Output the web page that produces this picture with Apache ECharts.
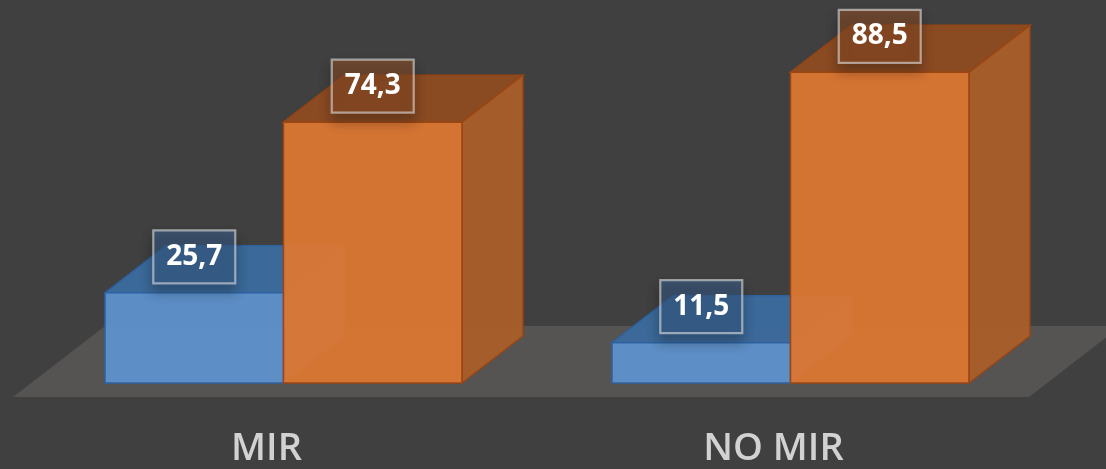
<!DOCTYPE html>
<html><head><meta charset="utf-8">
<script src="https://cdn.jsdelivr.net/npm/echarts@6/dist/echarts.min.js"></script>
<style>html,body{margin:0;padding:0;background:#404040}#c{width:1106px;height:469px}</style>
</head><body><div id="c"></div>
<script>
const categories = ['MIR', 'NO MIR'];
const seriesBlue = [25.7, 11.5];
const seriesOrange = [74.3, 88.5];

const DX = 61, DY = 47;
function fmt(v){ return v.toFixed(1).replace('.', ','); }

function boxRender(c, side) {
  return function (params, api) {
    const ci = api.value(0), v = api.value(1);
    const top = api.coord([ci, v]);
    const base = api.coord([ci, 0]);
    const bw = api.size([1, 0])[0];
    const w = bw * 0.352;
    const x0 = side < 0 ? top[0] - w : top[0];
    const x1 = x0 + w;
    const yt = top[1], yb = base[1];
    const sw = 1.5;
    const children = [
      { type: 'polygon', shape: { points: [[x0,yt],[x0+DX,yt-DY],[x1+DX,yt-DY],[x1,yt]] },
        style: { fill: c.top, stroke: c.stroke, lineWidth: sw, opacity: c.op } },
      { type: 'polygon', shape: { points: [[x1,yt],[x1+DX,yt-DY],[x1+DX,yb-DY],[x1,yb]] },
        style: { fill: c.side, stroke: c.stroke, lineWidth: sw, opacity: c.op } },
      { type: 'polygon', shape: { points: [[x0,yt],[x1,yt],[x1,yb],[x0,yb]] },
        style: { fill: c.front, stroke: c.stroke, lineWidth: sw, opacity: c.op } },
      { type: 'rect', shape: { x: (x0+x1)/2 - 41, y: yt - 36 - 26.5, width: 82, height: 53 },
        style: { fill: c.lab, stroke: 'rgba(225,225,225,0.6)', lineWidth: 2.2,
                 shadowBlur: 12, shadowColor: 'rgba(0,0,0,0.45)', shadowOffsetY: 8 } },
      { type: 'text', x: (x0+x1)/2, y: yt - 36,
        style: { text: fmt(v), fill: '#ffffff', font: 'bold 28px "Open Sans"', align: 'center', verticalAlign: 'middle' } }
    ];
    return { type: 'group', children };
  };
}

function floorRender(params, api) {
  const cs = params.coordSys;
  const base = cs.y + cs.height;
  const yf = base + 14, yk = base - 57;
  const xl = cs.x - 17, xr = cs.x + cs.width - 15;
  const off = 92;
  return { type: 'polygon', shape: { points: [[xl,yf],[xl+off,yk],[xr+off,yk],[xr,yf]] },
           style: { fill: '#565353' } };
}

const blue = { front: '#5d91c9', top: '#3b6a9c', side: '#3f6f9f', stroke: '#2d62a0', op: 0.97, lab: 'rgba(60,100,145,0.55)' };
const orange = { front: '#dc7733', top: '#8e4c22', side: '#aa5e29', stroke: '#9a4512', op: 0.95, lab: 'rgba(150,82,40,0.55)' };

const chart = echarts.init(document.getElementById('c'), null, { renderer: 'canvas' });
chart.setOption({
  backgroundColor: '#404040',
  animation: false,
  grid: { left: 30, right: 62, top: 32, bottom: 86 },
  xAxis: {
    type: 'category', data: categories,
    axisLine: { show: false }, axisTick: { show: false }, splitLine: { show: false },
    axisLabel: { color: '#d2d2d2', fontSize: 38, fontWeight: 600, fontFamily: 'Open Sans', margin: 47, padding: [0, 34, 0, 0] }
  },
  yAxis: { type: 'value', min: 0, max: 100, show: false },
  series: [
    { type: 'custom', name: 'floor', data: [[0, 0]], renderItem: floorRender, z: 1, silent: true },
    { type: 'custom', name: 'A', data: categories.map((c, i) => [i, seriesBlue[i]]), renderItem: boxRender(blue, -1), z: 2 },
    { type: 'custom', name: 'B', data: categories.map((c, i) => [i, seriesOrange[i]]), renderItem: boxRender(orange, 1), z: 3 }
  ]
});
</script></body></html>
